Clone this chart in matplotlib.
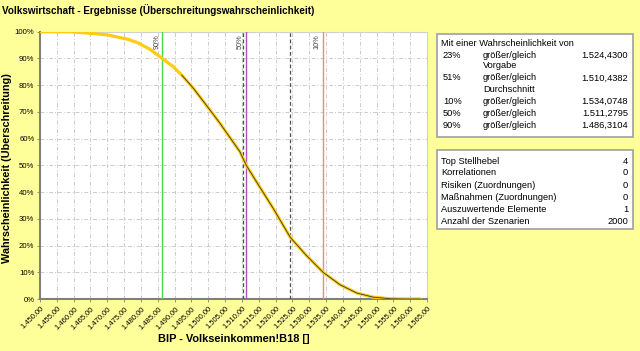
import numpy as np
import matplotlib.pyplot as plt
from matplotlib.patches import Rectangle
import matplotlib.transforms as mtransforms

plt.rcParams['font.family'] = ['Liberation Sans', 'DejaVu Sans']

# curve (BIP value vs. exceedance probability in %)
bip = [1450, 1459, 1465, 1470, 1476, 1479, 1482.7, 1486.3, 1489.6, 1492.1,
       1495.6, 1500.5, 1503.5, 1506.5, 1509.4, 1511.3, 1515, 1519.3, 1524.4,
       1529, 1534.1, 1539.2, 1544.2, 1549, 1554, 1558, 1563]
prob = [100, 100, 99.4, 98.8, 97.2, 95.9, 93.4, 90, 86.9, 83.8,
        78.8, 70.7, 65.7, 60.3, 55.1, 50, 42.5, 33.9, 23,
        16.5, 10, 5.3, 2.2, 0.7, 0.1, 0, 0]

# marker lines
q_vals = [1486.3104, 1511.2795, 1534.0748]
q_labels = ['90%', '50%', '10%']
q_colors = ['#44dd44', '#b050c0', '#f08888']
ref_vals = [1510.4382, 1524.4300]   # Durchschnitt, Vorgabe

# info boxes
info_pct = ['23%', '', '51%', '', '10%', '50%', '90%']
info_mid = ['größer/gleich', 'Vorgabe', 'größer/gleich', 'Durchschnitt',
            'größer/gleich', 'größer/gleich', 'größer/gleich']
info_val = ['1.524,4300', '', '1.510,4382', '', '1.534,0748', '1.511,2795', '1.486,3104']
stat_names = ['Top Stellhebel', 'Korrelationen', 'Risiken (Zuordnungen)',
              'Maßnahmen (Zuordnungen)', 'Auszuwertende Elemente', 'Anzahl der Szenarien']
stat_vals = ['4', '0', '0', '0', '1', '2000']

bg = '#ffff99'
fig = plt.figure(figsize=(6.4, 3.51), dpi=100, facecolor=bg)
W, H = 640, 351

def fx(px):
    return px / W

def fy(py):
    return 1 - py / H

ax = fig.add_axes([fx(40), fy(299), fx(427) - fx(40), fy(31.7) - fy(299)])
ax.set_facecolor('white')
ax.set_xlim(1450, 1565)
ax.set_ylim(0, 100)

xt = np.arange(1450, 1566, 5)
ax.set_xticks(xt)
ax.set_xticklabels(['{:,.2f}'.format(v).replace(',', 'X').replace('.', ',').replace('X', '.') for v in xt],
                   rotation=45, ha='right', rotation_mode='anchor', fontsize=5.4)
yt = np.arange(0, 101, 10)
ax.set_yticks(yt)
ax.set_yticklabels(['{}%'.format(v) for v in yt], fontsize=5.6)
ax.tick_params(length=2.5, width=0.6, color='#808080', pad=1.5)
ax.grid(True, color='#cccccc', linestyle=(0, (4, 2, 1, 2)), linewidth=0.7)
ax.set_axisbelow(True)
for s in ['left', 'bottom']:
    ax.spines[s].set_color('#808080')
    ax.spines[s].set_linewidth(1.5)
for s in ['top', 'right']:
    ax.spines[s].set_color('#d0d0d0')
    ax.spines[s].set_linewidth(0.8)

# vertical markers
for v in ref_vals:
    ax.axvline(v, color='#505050', linestyle=(0, (3, 2)), linewidth=0.9, zorder=3)
trans = mtransforms.blended_transform_factory(ax.transData, ax.transAxes)
for v, lab, c in zip(q_vals, q_labels, q_colors):
    ax.axvline(v, color=c, linewidth=1.0, zorder=3)
    ax.text(v - 0.6, 0.99, lab, transform=trans, rotation=90, ha='right', va='top',
            fontsize=5.3, color='#404040', zorder=4)

# curve: yellow band with dark center line
bip_a = np.array(bip)
prob_a = np.array(prob)
ax.plot(bip_a, prob_a, color='#ffcc10', linewidth=2.3, zorder=5, solid_capstyle='round')
m = prob_a <= 86
ax.plot(bip_a[m], prob_a[m], color='#383830', linewidth=0.6, zorder=6)

ax.set_ylabel('Wahrscheinlichkeit (Überschreitung)', fontsize=7.8, fontweight='bold')
ax.yaxis.set_label_coords(-0.072, 0.49)
ax.set_xlabel('BIP - Volkseinkommen!B18 []', fontsize=7.9, fontweight='bold', labelpad=3)

fig.text(fx(2), fy(10), 'Volkswirtschaft - Ergebnisse (Überschreitungswahrscheinlichkeit)',
         fontsize=7.1, fontweight='bold', va='center', ha='left')

# info box 1
fig.patches.append(Rectangle((fx(437), fy(137)), fx(633) - fx(437), fy(34) - fy(137),
                             transform=fig.transFigure, facecolor='white',
                             edgecolor='#a0a0a0', linewidth=1.2))
fs = 6.7
fig.text(fx(441), fy(44), 'Mit einer Wahrscheinlichkeit von', fontsize=fs, va='center')
rows_y = [55, 65.5, 78, 89, 101, 113, 125]
for y, a, b, c in zip(rows_y, info_pct, info_mid, info_val):
    fig.text(fx(443), fy(y), a, fontsize=fs, va='center')
    fig.text(fx(483), fy(y), b, fontsize=fs, va='center')
    fig.text(fx(628), fy(y), c, fontsize=fs, va='center', ha='right')

# info box 2
fig.patches.append(Rectangle((fx(437), fy(229)), fx(633) - fx(437), fy(150) - fy(229),
                             transform=fig.transFigure, facecolor='white',
                             edgecolor='#a0a0a0', linewidth=1.2))
for i, (n, v) in enumerate(zip(stat_names, stat_vals)):
    y = 161 + i * 12
    fig.text(fx(441), fy(y), n, fontsize=fs, va='center')
    fig.text(fx(628), fy(y), v, fontsize=fs, va='center', ha='right')

fig.savefig('out.png', dpi=100, facecolor=bg)
